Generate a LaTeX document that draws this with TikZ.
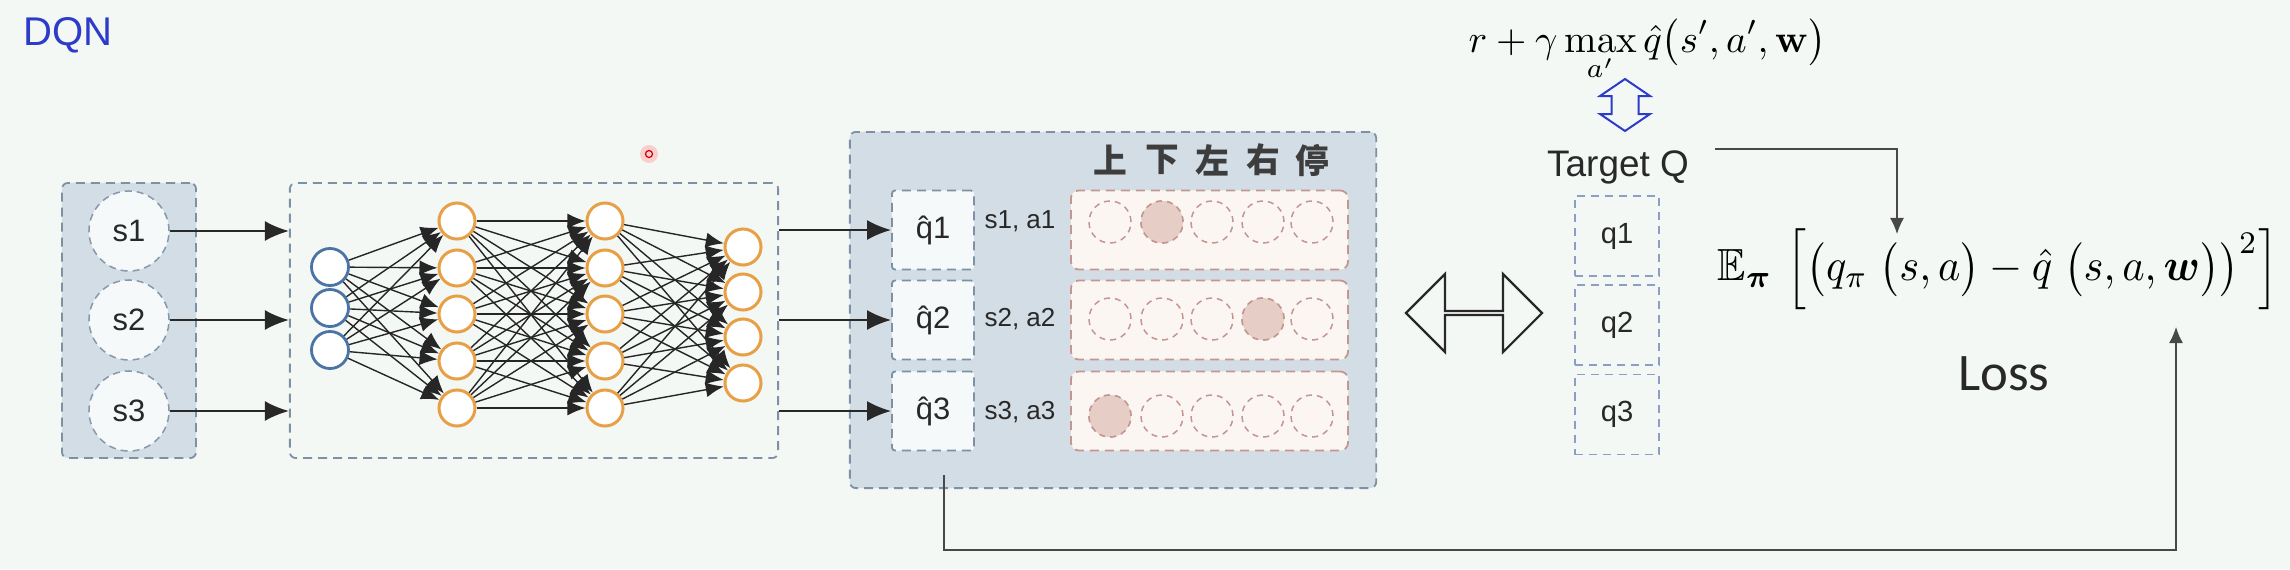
\RequirePackage{fix-cm}
\documentclass[tikz,border=0pt]{standalone}
\usepackage[no-math]{fontspec}
\usepackage{amsmath,amssymb,bm}
\usepackage{graphicx}
\usetikzlibrary{arrows.meta,shapes.arrows,calc}
\newfontfamily\hv{Liberation Sans}
\newfontfamily\calib{Carlito}
\newfontfamily\cjk{Noto Sans CJK SC}
\definecolor{bg}{RGB}{244,248,245}
\definecolor{boxfill}{RGB}{211,221,229}
\definecolor{boxline}{RGB}{125,145,165}
\definecolor{circline}{RGB}{135,152,172}
\definecolor{cellfill}{RGB}{245,249,249}
\definecolor{rowfill}{RGB}{252,246,243}
\definecolor{rowline}{RGB}{196,150,146}
\definecolor{actfill}{RGB}{230,206,198}
\definecolor{nnblue}{RGB}{75,115,165}
\definecolor{nnorange}{RGB}{232,160,70}
\definecolor{dqnblue}{RGB}{45,60,200}
\definecolor{tqline}{RGB}{140,158,195}
\definecolor{ink}{RGB}{40,40,40}
\tikzset{
  dbox/.style={draw=boxline, line width=0.018cm, dash pattern=on 0.09cm off 0.06cm, rounded corners=0.06cm, inner sep=0},
  grayzone/.style={dbox, fill=boxfill},
  scirc/.style={circle, draw=circline, fill=cellfill, line width=0.015cm, dash pattern=on 0.07cm off 0.05cm, minimum size=0.8cm, inner sep=0, font=\hv\fontsize{8.8}{10}\selectfont, text=ink},
  qhcell/.style={draw=boxline, fill=cellfill, line width=0.018cm, dash pattern=on 0.09cm off 0.06cm, minimum width=0.82cm, minimum height=0.79cm, inner sep=0, rounded corners=0.03cm, font=\hv\fontsize{8.8}{10}\selectfont, text=ink},
  actrow/.style={draw=rowline, fill=rowfill, line width=0.018cm, dash pattern=on 0.09cm off 0.06cm, rounded corners=0.08cm, minimum width=2.77cm, minimum height=0.79cm, inner sep=0},
  actcirc/.style={circle, draw=rowline, line width=0.015cm, dash pattern=on 0.06cm off 0.05cm, minimum size=0.42cm, inner sep=0},
  actsel/.style={actcirc, fill=actfill},
  tcell/.style={draw=tqline, line width=0.016cm, dash pattern=on 0.08cm off 0.06cm, minimum width=0.84cm, minimum height=0.8cm, inner sep=0, font=\hv\fontsize{8.3}{10}\selectfont, text=ink},
  nnin/.style={circle, draw=nnblue, fill=white, line width=0.028cm, minimum size=0.37cm, inner sep=0},
  nnhid/.style={circle, draw=nnorange, fill=white, line width=0.03cm, minimum size=0.36cm, inner sep=0},
  nnedge/.style={draw=black!85, line width=0.014cm, -{Latex[length=0.18cm,width=0.15cm]}},
  bigarrow/.style={draw=ink, line width=0.022cm, -{Latex[length=0.24cm,width=0.2cm]}},
  thinarrow/.style={draw=ink!85, line width=0.014cm, -{Latex[length=0.16cm,width=0.14cm]}},
  lbl/.style={font=\hv\fontsize{7.4}{9}\selectfont, text=ink, inner sep=0},
  hdr/.style={font=\cjk\bfseries\fontsize{9.6}{11}\selectfont, text=ink!90, inner sep=0},
}
\begin{document}
\begin{tikzpicture}[x=0.01cm,y=-0.01cm]
\useasboundingbox (0,0) rectangle (2290,569);
\fill[bg] (0,0) rectangle (2290,569);

% title
\node[font=\hv\fontsize{11.4}{13}\selectfont, text=dqnblue, anchor=base west, inner sep=0] (dqn) at (23,45) {DQN};

% state box
\node[grayzone, minimum width=1.34cm, minimum height=2.75cm] (sbox) at (129,320.5) {};
\node[scirc] (s1) at (129,231) {s1};
\node[scirc] (s2) at (129,320) {s2};
\node[scirc] (s3) at (129,411) {s3};

% network frame
\node[dbox, minimum width=4.88cm, minimum height=2.75cm] (nn) at (534,320.5) {};

% cursor mark
\fill[red!35, opacity=0.5] (649,154) circle[radius=0.09cm];
\draw[red!80!black, line width=0.012cm] (649,154) circle[radius=0.035cm];

% network nodes
\foreach \y [count=\i] in {267,308,350} \node[nnin] (b\i) at (330,\y) {};
\foreach \y [count=\i] in {221,268,314,361,408} {
  \node[nnhid] (h\i) at (457,\y) {};
  \node[nnhid] (g\i) at (605,\y) {};
}
\foreach \y [count=\i] in {247,292,337,383} \node[nnhid] (o\i) at (743,\y) {};
\foreach \i in {1,2,3} \foreach \j in {1,...,5} \draw[nnedge] (b\i) -- (h\j);
\foreach \i in {1,...,5} \foreach \j in {1,...,5} \draw[nnedge] (h\i) -- (g\j);
\foreach \i in {1,...,5} \foreach \j in {1,...,4} \draw[nnedge] (g\i) -- (o\j);

% inputs
\foreach \i in {1,2,3} \draw[bigarrow] (s\i.east) -- (s\i.east -| nn.west);

% Q output box
\node[grayzone, minimum width=5.26cm, minimum height=3.56cm] (qbox) at (1113,310) {};
\node[qhcell] (qh1) at (933,230) {\^{q}1};
\node[qhcell] (qh2) at (933,320) {\^{q}2};
\node[qhcell] (qh3) at (933,411) {\^{q}3};
\node[lbl] (sa1) at (1020,221) {s1, a1};
\node[lbl] (sa2) at (1020,319) {s2, a2};
\node[lbl] (sa3) at (1020,412) {s3, a3};
\node[actrow] (r1) at (1209.5,230) {};
\node[actrow] (r2) at (1209.5,320) {};
\node[actrow] (r3) at (1209.5,411) {};
\foreach \ch/\x [count=\k] in {上/1110,下/1162,左/1212,右/1263,停/1312} {
  \node[hdr] (hd\k) at (\x,160) {\ch};
  \node[actcirc] (c1\k) at (\x,222) {};
  \node[actcirc] (c2\k) at (\x,319) {};
  \node[actcirc] (c3\k) at (\x,416) {};
}
\node[actsel] at (c12) {};
\node[actsel] at (c24) {};
\node[actsel] at (c31) {};
\foreach \i in {1,2,3} \draw[bigarrow] (nn.east |- qh\i.west) -- (qh\i.west);

% comparison arrow
\node[double arrow, draw=ink, fill=bg, line width=0.022cm, minimum width=0.78cm, minimum height=1.36cm, double arrow head extend=0.2cm, inner sep=0] (cmp) at (1474,313) {};

% target side
\node[anchor=base west, inner sep=0, font=\fontsize{11.1}{13}\selectfont] (tf) at (1468,52) {$\displaystyle r+\gamma\max_{a'}\hat{q}\big(s',a',\mathbf{w}\big)$};
\draw[draw=dqnblue, fill=bg, line width=0.02cm, line join=miter]
  (1625,79) -- (1650,96) -- (1638.5,96) -- (1638.5,114) -- (1650,114) -- (1625,131)
  -- (1600,114) -- (1611.5,114) -- (1611.5,96) -- (1600,96) -- cycle;
\node[font=\hv\fontsize{10.5}{12}\selectfont, text=ink, anchor=base] (tq) at (1618,176) {Target Q};
\node[tcell] (q1) at (1617,236) {q1};
\node[tcell] (q2) at (1617,325) {q2};
\node[tcell] (q3) at (1617,414.5) {q3};

% loss
\node[inner sep=0] (lossf) at (1998,269.5) {\resizebox*{5.6cm}{0.81cm}{$\displaystyle \mathbb{E}_{\boldsymbol{\pi}}\mskip6mu\Big[\big(q_{\pi}\mskip5mu\big(s,a\big)-\hat{q}\mskip5mu\big(s,a,\boldsymbol{w}\big)\big)^{2}\Big]$}};
\node[font=\calib\fontsize{15}{18}\selectfont, text=ink, anchor=base, inner sep=0] (losslbl) at (2004,390) {Loss};

\coordinate (tqo) at (1715,149);
\coordinate (lin1) at (1897,234);
\draw[thinarrow] (tqo) -| (lin1);
\coordinate (lst) at (944,475);
\coordinate (lbot) at (2176,550);
\coordinate (lin2) at (2176,327);
\draw[thinarrow] (lst) |- (lbot) -- (lin2);
\end{tikzpicture}
\end{document}
